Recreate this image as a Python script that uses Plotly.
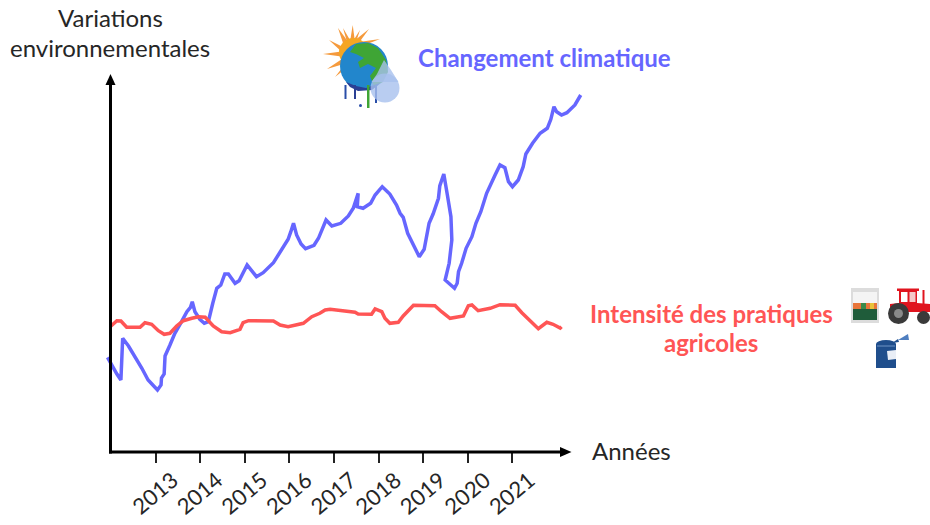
import plotly.graph_objects as go

# values (y is an arbitrary index, the source has no scale)
climat_annee = [2011.92, 2012.01, 2012.13, 2012.22, 2012.26, 2012.39, 2012.54, 2012.69, 2012.83, 2013.04,
                2013.12, 2013.13, 2013.19, 2013.21, 2013.32, 2013.43, 2013.58, 2013.70, 2013.78, 2013.82,
                2013.88, 2013.99, 2014.09, 2014.18, 2014.28, 2014.37, 2014.46, 2014.55, 2014.63, 2014.78,
                2014.87, 2014.96, 2015.05, 2015.26, 2015.41, 2015.64, 2015.83, 2015.97, 2016.03, 2016.09,
                2016.16, 2016.26, 2016.36, 2016.55, 2016.65, 2016.82, 2016.95, 2017.15, 2017.32, 2017.43,
                2017.54, 2017.52, 2017.65, 2017.82, 2017.92, 2018.08, 2018.25, 2018.40, 2018.48, 2018.55,
                2018.65, 2018.79, 2018.91, 2019.02, 2019.06, 2019.13, 2019.22, 2019.34, 2019.37, 2019.46,
                2019.54, 2019.62, 2019.64, 2019.58, 2019.49, 2019.70, 2019.76, 2019.79, 2019.86, 2019.96,
                2020.09, 2020.18, 2020.29, 2020.42, 2020.61, 2020.72, 2020.83, 2020.91, 2021.00, 2021.13,
                2021.24, 2021.30, 2021.45, 2021.62, 2021.78, 2021.86, 2021.93, 2021.99, 2022.10, 2022.22,
                2022.40, 2022.53]
climat_val = [94.7, 87, 78, 72, 113.7, 106, 95.3, 83.7, 72, 62,
              67, 74, 78, 96, 107, 118.7, 130.3, 140.3, 144.7, 150.3,
              140.3, 132.7, 128.7, 130.3, 148.7, 163.7, 167, 178, 178, 168.7,
              171.3, 178.7, 187, 175.3, 179.3, 189.3, 202.7, 212.7, 220.3, 228.7,
              217, 208, 203.3, 206.7, 213.7, 232, 226, 228.7, 236, 243.7,
              258.7, 245.3, 243.7, 248.7, 257, 265.3, 258, 247, 238.7, 234.7,
              218.7, 205.3, 195.3, 202.7, 213.7, 228.7, 238, 253.7, 266, 278,
              257, 235.3, 212, 188.7, 172, 163.7, 168.7, 180.3, 188.7, 203.7,
              215.3, 228.7, 240.3, 258.7, 277, 287, 284.3, 270.3, 265.3, 272,
              285.3, 298, 308.7, 318.7, 323.7, 332.7, 345.3, 340.3, 337, 339.3,
              347, 357]

pratiques_annee = [2011.98, 2012.13, 2012.22, 2012.35, 2012.65, 2012.76, 2012.91, 2013.06, 2013.19, 2013.32,
                   2013.47, 2013.62, 2013.81, 2013.96, 2014.11, 2014.29, 2014.48, 2014.67, 2014.89, 2014.96,
                   2015.08, 2015.64, 2015.79, 2015.97, 2016.31, 2016.50, 2016.68, 2016.80, 2016.91, 2017.47,
                   2017.54, 2017.84, 2017.92, 2018.07, 2018.14, 2018.25, 2018.44, 2018.55, 2018.78, 2019.26,
                   2019.41, 2019.60, 2019.90, 2020.01, 2020.09, 2020.23, 2020.50, 2020.72, 2021.06, 2021.21,
                   2021.58, 2021.77, 2021.91, 2022.07, 2022.10]
pratiques_val = [125.3, 131.3, 131, 124.7, 124.7, 129.3, 127.7, 121.3, 117.7, 118.7,
                 126, 131.3, 133.7, 135.3, 134.7, 126, 120.3, 119.3, 122.7, 129.3,
                 131.3, 131, 127, 125.3, 128.7, 135.3, 138.7, 142, 142.7, 139.7,
                 138, 137.7, 143, 140.3, 133.7, 128.7, 129.7, 136, 146.7, 146.3,
                 140.3, 133.7, 136, 146.3, 147, 141.3, 143.7, 147.3, 146.7, 139.3,
                 123.3, 129.7, 127.7, 124, 125.3]

annees = [2013, 2014, 2015, 2016, 2017, 2018, 2019, 2020, 2021]

BLEU = "#6666ff"
ROUGE = "#ff5555"
NOIR = "#262626"
FONT = "Lato, Carlito, sans-serif"
W, H = 930, 525
# the plot area is wider than the drawn axes: plotly clips lines to it and the blue line overshoots
L, R, T, B = 106, 345, 75, 73


# paper coordinates are relative to the plot area, so convert from picture pixels
def px(x):
    return (x - L) / (W - L - R)


def py(y):
    return (H - B - y) / (H - T - B)


def poly(points, fill, opacity=1):
    d = "M " + " L ".join(f"{px(x):.5f} {py(y):.5f}" for x, y in points) + " Z"
    return dict(type="path", xref="paper", yref="paper", path=d, fillcolor=fill,
                line=dict(width=0), opacity=opacity)


def box(x0, y0, x1, y1, fill, kind="rect", opacity=1):
    return dict(type=kind, xref="paper", yref="paper", x0=px(x0), x1=px(x1), y0=py(y0), y1=py(y1),
                fillcolor=fill, line=dict(width=0), opacity=opacity)


def stroke(x0, y0, x1, y1, color="black", width=3):
    return dict(type="line", xref="paper", yref="paper", x0=px(x0), x1=px(x1), y0=py(y0), y1=py(y1),
                line=dict(color=color, width=width))


def label(x, y, text, color=NOIR, size=24, bold=False):
    if bold:
        text = "<b>" + text + "</b>"
    return dict(xref="paper", yref="paper", x=px(x), y=py(y), text=text, showarrow=False,
                xanchor="center", yanchor="middle", font=dict(family=FONT, size=size, color=color))


shapes = [
    # the two axes and their arrow heads
    stroke(110.5, 453.5, 110.5, 82),
    stroke(109, 452, 562, 452),
    poly([(105.5, 85), (110.5, 74), (115.5, 85)], "black"),
    poly([(560, 447), (571.5, 452), (560, 457)], "black"),
]

# sun behind the globe
sun_rays = [[(323, 54), (345, 51), (345, 57)], [(327, 69), (345, 57), (347, 63)],
            [(329, 40), (345, 48), (343, 53)], [(338, 28), (349, 43), (344, 46)],
            [(352.7, 25), (355, 42), (350, 42)], [(369, 29), (358, 44), (354, 41)],
            [(380, 39), (362, 46), (359, 42)], [(343, 28), (350, 40), (347, 42)],
            [(360, 30), (356, 42), (353, 41)], [(335, 77), (346, 63), (349, 66)]]
shapes += [poly(r, "#f59a3c") for r in sun_rays]
shapes.append(box(339, 38, 368, 67, "#f5a623", "circle"))

# globe, with the land on top and paint running off the bottom
shapes.append(box(340, 42, 388, 90, "#2286cc", "circle"))
shapes.append(poly([(356, 44), (368, 43), (378, 48), (386, 60), (388, 72), (383, 82), (374, 86), (370, 76),
                    (376, 68), (368, 64), (360, 68), (358, 62), (364, 58), (356, 54), (350, 52)], "#3fa535"))
shapes.append(poly([(346, 82), (356, 86), (366, 88), (380, 83), (372, 90), (358, 91), (350, 87)], "#2a3f94"))
drips = [(344.5, 346.5, 99, "#2a4ea8"), (354, 356, 99, "#2a3f94"), (367, 369.5, 108, "#3fa535"),
         (375, 377, 103, "#2a4ea8")]
for x0, x1, y1, c in drips:
    shapes.append(box(x0, 85, x1, y1, c))
shapes.append(box(359, 104, 362, 107, "#2a4ea8", "circle"))
# water drop
shapes.append(poly([(384, 60), (391, 70), (398.5, 82), (371.5, 82), (377, 74)], "#a8c0ee", 0.8))
shapes.append(box(370.5, 73.5, 399.5, 102.5, "#a8c0ee", "circle", 0.8))

# bag of fertiliser
shapes.append(box(851, 288, 879, 323, "#dcdcdc"))
shapes.append(box(853, 292, 877, 303, "#f4f4f4"))
shapes.append(box(853, 303, 877, 309, "#e8753a"))
shapes.append(box(861, 303, 866, 309, "#3a8a4a"))
shapes.append(box(870, 303, 874, 309, "#e8c23a"))
shapes.append(box(853, 309, 877, 320, "#1f5c3a"))

# tractor
shapes.append(poly([(890, 304), (899, 303), (899, 290), (917, 290), (917, 303), (930, 304), (930, 312),
                    (890, 312)], "#e0141e"))
shapes.append(box(901, 292, 907.5, 302, "#ffffff"))
shapes.append(box(909.5, 292, 915.5, 302, "#f5c8c8"))
shapes.append(box(897, 288.5, 919, 291, "#e0141e"))
shapes.append(box(922.5, 290, 924.5, 304, "#e0141e"))
shapes.append(box(888, 303, 909, 324, "#3a3a3a", "circle"))
shapes.append(box(894, 309, 903, 318, "#8a8a8a", "circle"))
shapes.append(box(917, 311, 930, 324, "#3a3a3a", "circle"))

# sprayer can
shapes.append(box(876, 344, 896, 368, "#1f4e8c"))
shapes.append(box(876, 340, 896, 348, "#1f4e8c", "circle"))
shapes.append(stroke(877, 346, 895, 346, "#6f93c4", 1))
shapes.append(poly([(887, 351), (896, 350), (896, 359), (888, 360)], "#e9eef6"))
shapes.append(poly([(892, 343), (898, 339), (899, 342)], "#1f4e8c"))
shapes.append(poly([(898, 340), (908, 334), (909, 340)], "#4f7fc0"))

annotations = [
    label(110, 17, "Variations"),
    label(110, 47, "environnementales"),
    label(631, 450, "Années"),
    label(544, 58, "Changement climatique", BLEU, 24, True),
    label(711, 313, "Intensité des pratiques", ROUGE, 24, True),
    label(711, 342, "agricoles", ROUGE, 24, True),
]

fig = go.Figure()
fig.add_trace(go.Scatter(x=climat_annee, y=climat_val, mode="lines",
                         line=dict(color=BLEU, width=3.5)))
fig.add_trace(go.Scatter(x=pratiques_annee, y=pratiques_val, mode="lines",
                         line=dict(color=ROUGE, width=3.5)))

fig.update_layout(
    width=W, height=H,
    margin=dict(l=L, r=R, t=T, b=B, pad=0, autoexpand=False),
    paper_bgcolor="white", plot_bgcolor="white",
    showlegend=False,
    shapes=shapes, annotations=annotations,
    xaxis=dict(range=[2011.886, 2022.626], tickmode="array", tickvals=annees, automargin=False,
               ticktext=[str(a) for a in annees], tickangle=-40, ticks="outside", ticklen=10, tickwidth=2,
               tickcolor="#222222", showline=False, showgrid=False,
               zeroline=False, tickfont=dict(family=FONT, size=22, color=NOIR),
               ticklabelshift=17, ticklabelstandoff=-4),
    yaxis=dict(range=[0, 377], showticklabels=False, ticks="", showline=False, showgrid=False,
               zeroline=False, automargin=False),
)

fig.write_html("out.html", config=dict(displayModeBar=False), post_script="document.body.style.margin='0';")
